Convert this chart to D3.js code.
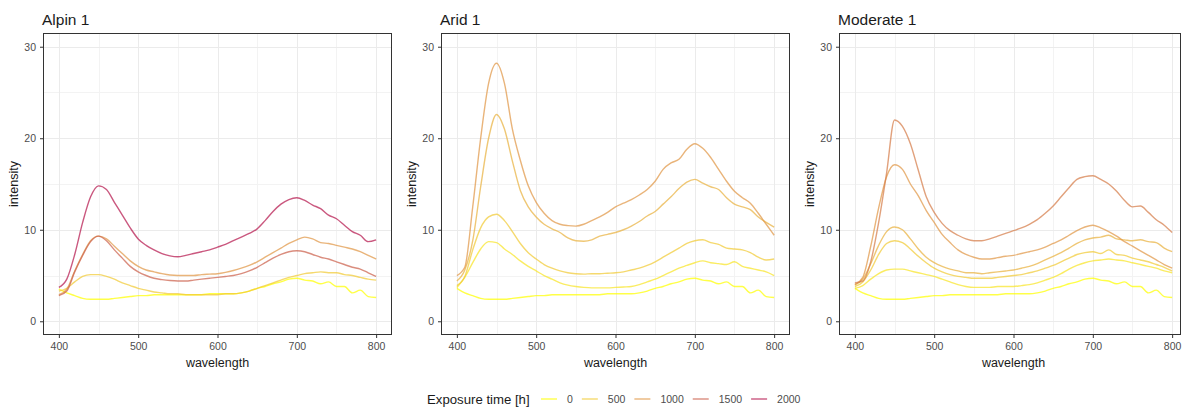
<!DOCTYPE html>
<html><head><meta charset="utf-8">
<script src="https://cdn.jsdelivr.net/npm/d3@7"></script>
<style>
body{margin:0;background:#fff;}
svg{display:block;font-family:"Liberation Sans",Arial,Helvetica,sans-serif;}
</style>
</head><body>
<svg id="chart" width="1182" height="407"></svg>
<script>
// ---------- data ----------
const wavelength = [400,410,420,430,440,450,460,470,480,490,500,510,520,530,540,550,560,570,580,590,600,610,620,630,640,650,660,670,680,690,700,710,720,730,740,750,760,770,780,790,800];
const xTicks = [400,500,600,700,800];
const xMinor = [450,550,650,750];
const yTicks = [0,10,20,30];
const yMinor = [5,15,25];
const legendBreaks = [0,500,1000,1500,2000];
const panelNames = ["Alpin 1","Arid 1","Moderate 1"];

// Alpin 1
const alpinExposure = [0,500,1000,1500,2000];
const alpin_0    = [3.5,3.1,2.8,2.5,2.4,2.4,2.4,2.5,2.6,2.7,2.8,2.8,2.9,2.9,2.9,2.9,2.9,2.9,2.9,3.0,3.0,3.0,3.0,3.1,3.3,3.6,3.8,4.1,4.3,4.6,4.7,4.5,4.4,4.1,4.3,3.8,3.8,3.1,3.4,2.7,2.6];
const alpin_500  = [3.3,3.6,4.3,4.9,5.1,5.1,4.9,4.6,4.2,3.9,3.6,3.4,3.2,3.1,3.0,3.0,2.9,2.9,2.9,2.9,2.9,3.0,3.0,3.1,3.3,3.6,3.9,4.2,4.5,4.8,5.0,5.2,5.3,5.4,5.3,5.3,5.1,5.0,4.8,4.6,4.5];
const alpin_1000 = [2.9,3.5,5.5,7.3,8.8,9.3,9.0,8.2,7.4,6.6,6.0,5.6,5.4,5.2,5.05,5.0,5.0,5.0,5.1,5.15,5.2,5.35,5.55,5.8,6.1,6.5,7.0,7.5,8.0,8.5,8.9,9.2,9.0,8.6,8.5,8.3,8.1,7.9,7.6,7.2,6.8];
const alpin_1500 = [2.8,3.3,5.4,7.2,8.7,9.3,8.8,7.8,6.9,6.0,5.4,5.0,4.7,4.55,4.45,4.4,4.4,4.5,4.6,4.7,4.8,4.9,5.0,5.2,5.5,5.9,6.4,6.9,7.3,7.6,7.7,7.6,7.3,7.0,6.8,6.5,6.2,5.9,5.7,5.3,4.9];
const alpin_2000 = [3.7,4.6,7.3,10.8,13.6,14.8,14.4,13.0,11.6,10.2,9.0,8.3,7.8,7.4,7.15,7.05,7.2,7.4,7.6,7.8,8.1,8.4,8.8,9.2,9.6,10.1,11.0,12.0,12.8,13.3,13.5,13.2,12.7,12.3,11.6,11.2,10.5,9.8,9.4,8.7,8.9];

// Arid 1
const aridExposure = [0,250,500,750,1000];
const arid_0    = [3.6,3.1,2.8,2.5,2.4,2.4,2.4,2.5,2.6,2.7,2.8,2.8,2.9,2.9,2.9,2.9,2.9,2.9,2.9,3.0,3.0,3.0,3.0,3.1,3.3,3.6,3.8,4.1,4.3,4.6,4.7,4.5,4.4,4.1,4.3,3.8,3.8,3.1,3.4,2.7,2.6];
const arid_250  = [3.7,4.8,6.4,7.9,8.7,8.6,7.9,7.3,6.6,6.0,5.5,5.0,4.6,4.2,3.95,3.8,3.7,3.65,3.65,3.65,3.7,3.75,3.8,4.0,4.3,4.6,5.0,5.4,5.8,6.1,6.4,6.6,6.4,6.3,6.2,6.5,6.0,5.8,5.6,5.4,5.0];
const arid_500  = [3.9,4.9,7.8,10.2,11.4,11.7,11.0,9.8,8.5,7.5,6.8,6.2,5.8,5.5,5.3,5.2,5.15,5.2,5.2,5.25,5.3,5.4,5.6,5.8,6.1,6.5,7.0,7.5,8.0,8.5,8.8,8.9,8.6,8.4,8.0,7.9,7.8,7.5,7.0,6.7,6.8];
const arid_750  = [4.4,5.6,8.8,14.7,20.0,22.6,21.0,17.5,14.3,12.5,11.4,10.6,10.1,9.7,9.1,8.8,8.75,8.9,9.3,9.5,9.7,10.0,10.4,10.9,11.5,12.0,12.8,13.6,14.5,15.2,15.5,15.1,14.7,14.4,13.5,12.8,12.5,12.2,11.4,10.8,10.3];
const arid_1000 = [5.0,5.9,12.5,20.0,26.0,28.2,26.0,21.0,17.6,14.8,13.0,11.8,11.0,10.6,10.45,10.4,10.6,11.0,11.4,11.9,12.5,12.9,13.3,13.8,14.4,15.3,16.6,17.3,17.7,18.8,19.4,18.9,17.9,16.6,15.3,14.2,13.5,12.9,11.8,10.6,9.4];

// Moderate 1
const moderateExposure = [0,250,500,750,1000,1250];
const moderate_0    = [3.6,3.1,2.8,2.5,2.4,2.4,2.4,2.5,2.6,2.7,2.8,2.8,2.9,2.9,2.9,2.9,2.9,2.9,2.9,3.0,3.0,3.0,3.0,3.1,3.3,3.6,3.8,4.1,4.3,4.6,4.7,4.5,4.4,4.1,4.3,3.8,3.8,3.1,3.4,2.7,2.6];
const moderate_250  = [3.6,3.9,4.6,5.2,5.6,5.7,5.7,5.5,5.3,5.1,4.9,4.6,4.3,4.0,3.8,3.7,3.7,3.7,3.8,3.8,3.8,3.9,4.0,4.2,4.5,4.8,5.2,5.7,6.1,6.4,6.6,6.7,6.8,6.7,6.6,6.4,6.2,6.0,5.8,5.5,5.3];
const moderate_500  = [3.8,4.3,5.6,7.3,8.5,8.8,8.6,7.9,7.1,6.4,5.8,5.4,5.1,4.9,4.8,4.7,4.7,4.7,4.8,4.9,5.0,5.1,5.3,5.5,5.8,6.1,6.5,6.9,7.3,7.5,7.6,7.4,7.8,7.3,7.2,6.9,6.7,6.5,6.2,5.9,5.5];
const moderate_750  = [4.0,4.6,6.3,8.3,9.8,10.3,10.0,9.0,7.9,7.0,6.4,6.0,5.7,5.5,5.3,5.3,5.2,5.3,5.4,5.5,5.6,5.8,6.0,6.3,6.7,7.1,7.5,8.0,8.5,8.9,9.1,9.2,9.4,9.0,8.9,8.8,8.9,8.7,8.6,8.0,7.6];
const moderate_1000 = [4.0,4.8,8.2,12.4,15.8,17.1,16.6,15.0,13.7,12.1,10.8,9.5,8.6,7.8,7.3,7.0,6.8,6.8,6.95,7.1,7.2,7.4,7.6,7.8,8.1,8.5,8.9,9.4,9.9,10.3,10.5,10.2,9.8,9.3,8.7,8.2,7.7,7.2,6.7,6.2,5.8];
const moderate_1250 = [4.2,4.4,6.5,10.8,16.2,22.0,21.3,19.4,16.5,13.6,11.9,10.7,9.9,9.4,9.0,8.8,8.8,9.0,9.3,9.6,9.9,10.2,10.6,11.1,11.8,12.6,13.6,14.6,15.5,15.8,15.9,15.5,15.0,14.2,13.2,12.5,12.6,11.9,11.1,10.5,9.7];

const panels = [
  {name: panelNames[0], exposure: alpinExposure, series: [alpin_0, alpin_500, alpin_1000, alpin_1500, alpin_2000]},
  {name: panelNames[1], exposure: aridExposure, series: [arid_0, arid_250, arid_500, arid_750, arid_1000]},
  {name: panelNames[2], exposure: moderateExposure, series: [moderate_0, moderate_250, moderate_500, moderate_750, moderate_1000, moderate_1250]}
];

// ---------- drawing ----------
const W = 1182, H = 407;
const svg = d3.select("#chart");
svg.append("rect").attr("width", W).attr("height", H).attr("fill", "#fff");

const color = d3.scaleLinear().domain([0, 2000])
  .range(["#ffff00", "#b5174e"]).interpolate(d3.interpolateLab);
const LINE_OPACITY = 0.72, LINE_WIDTH = 1.4;

const panelLefts = [43, 441, 839];
const panelW = 349, pTop = 33, pBottom = 335;

panels.forEach((p, i) => {
  const L = panelLefts[i];
  const R = Math.min(L + panelW, W - 1);
  const x = d3.scaleLinear().domain([380, 820]).range([L, L + panelW]);
  const y = d3.scaleLinear().domain([-1.5, 31.5]).range([pBottom, pTop]);
  const g = svg.append("g");

  const clipId = "clip" + i;
  svg.append("defs").append("clipPath").attr("id", clipId)
    .append("rect").attr("x", L).attr("y", pTop).attr("width", R - L).attr("height", pBottom - pTop);
  const pg = g.append("g").attr("clip-path", `url(#${clipId})`);

  // minor grid
  pg.selectAll(".vminor").data(xMinor).join("line")
    .attr("x1", d => Math.round(x(d)) + 0.5).attr("x2", d => Math.round(x(d)) + 0.5)
    .attr("y1", pTop).attr("y2", pBottom).attr("stroke", "#f3f3f3").attr("stroke-width", 1);
  pg.selectAll(".hminor").data(yMinor).join("line")
    .attr("y1", d => Math.round(y(d)) + 0.5).attr("y2", d => Math.round(y(d)) + 0.5)
    .attr("x1", L).attr("x2", R).attr("stroke", "#f3f3f3").attr("stroke-width", 1);
  // major grid
  pg.selectAll(".vmajor").data(xTicks).join("line")
    .attr("x1", d => Math.round(x(d)) + 0.5).attr("x2", d => Math.round(x(d)) + 0.5)
    .attr("y1", pTop).attr("y2", pBottom).attr("stroke", "#ebebeb").attr("stroke-width", 1);
  pg.selectAll(".hmajor").data(yTicks).join("line")
    .attr("y1", d => Math.round(y(d)) + 0.5).attr("y2", d => Math.round(y(d)) + 0.5)
    .attr("x1", L).attr("x2", R).attr("stroke", "#ebebeb").attr("stroke-width", 1);

  // lines
  const line = d3.line()
    .x((d, j) => x(wavelength[j]))
    .y(d => y(d))
    .curve(d3.curveMonotoneX);
  p.series.forEach((s, k) => {
    pg.append("path").datum(s)
      .attr("d", line)
      .attr("fill", "none")
      .attr("stroke", color(p.exposure[k]))
      .attr("stroke-opacity", LINE_OPACITY)
      .attr("stroke-width", LINE_WIDTH)
      .attr("stroke-linejoin", "round");
  });

  // border
  g.append("rect").attr("x", L + 0.5).attr("y", pTop + 0.5)
    .attr("width", R - L - 1).attr("height", pBottom - pTop - 1)
    .attr("fill", "none").attr("stroke", "#333").attr("stroke-width", 1);

  // axes
  const xa = g.append("g").attr("transform", `translate(0,${pBottom})`)
    .call(d3.axisBottom(x).tickValues(xTicks).tickSize(3).tickPadding(4.5).tickFormat(d3.format("d")));
  const ya = g.append("g").attr("transform", `translate(${L},0)`)
    .call(d3.axisLeft(y).tickValues(yTicks).tickSize(3).tickPadding(4).tickFormat(d3.format("d")));
  [xa, ya].forEach(a => {
    a.select(".domain").remove();
    a.selectAll(".tick line").attr("stroke", "#333");
    a.selectAll(".tick text").attr("fill", "#4d4d4d").style("font-size", "10.5px")
      .style("font-family", '"Liberation Sans",Arial,sans-serif');
  });

  // titles
  g.append("text").attr("x", L - 1).attr("y", 25).text(p.name)
    .attr("fill", "#1a1a1a").style("font-size", "15.5px");
  g.append("text").attr("x", (L + L + panelW) / 2).attr("y", 366.5)
    .attr("text-anchor", "middle").text("wavelength")
    .attr("fill", "#1a1a1a").style("font-size", "12.5px");
  g.append("text").attr("transform", `translate(${L - 25},${(pTop + pBottom) / 2}) rotate(-90)`)
    .attr("text-anchor", "middle").text("intensity")
    .attr("fill", "#1a1a1a").style("font-size", "12.5px");
});

// legend
const lg = svg.append("g");
const ly = 399;
lg.append("text").attr("x", 427).attr("y", ly + 4.5).text("Exposure time [h]")
  .attr("fill", "#1a1a1a").style("font-size", "13.2px");
let kx = 541;
legendBreaks.forEach(b => {
  lg.append("line").attr("x1", kx).attr("x2", kx + 16).attr("y1", ly).attr("y2", ly)
    .attr("stroke", color(b)).attr("stroke-opacity", LINE_OPACITY).attr("stroke-width", LINE_WIDTH);
  const t = lg.append("text").attr("x", kx + 26).attr("y", ly + 3.7).text(b)
    .attr("fill", "#4d4d4d").style("font-size", "10.5px");
  kx = kx + 26 + t.node().getComputedTextLength() + 9;
});
</script>
</body></html>
